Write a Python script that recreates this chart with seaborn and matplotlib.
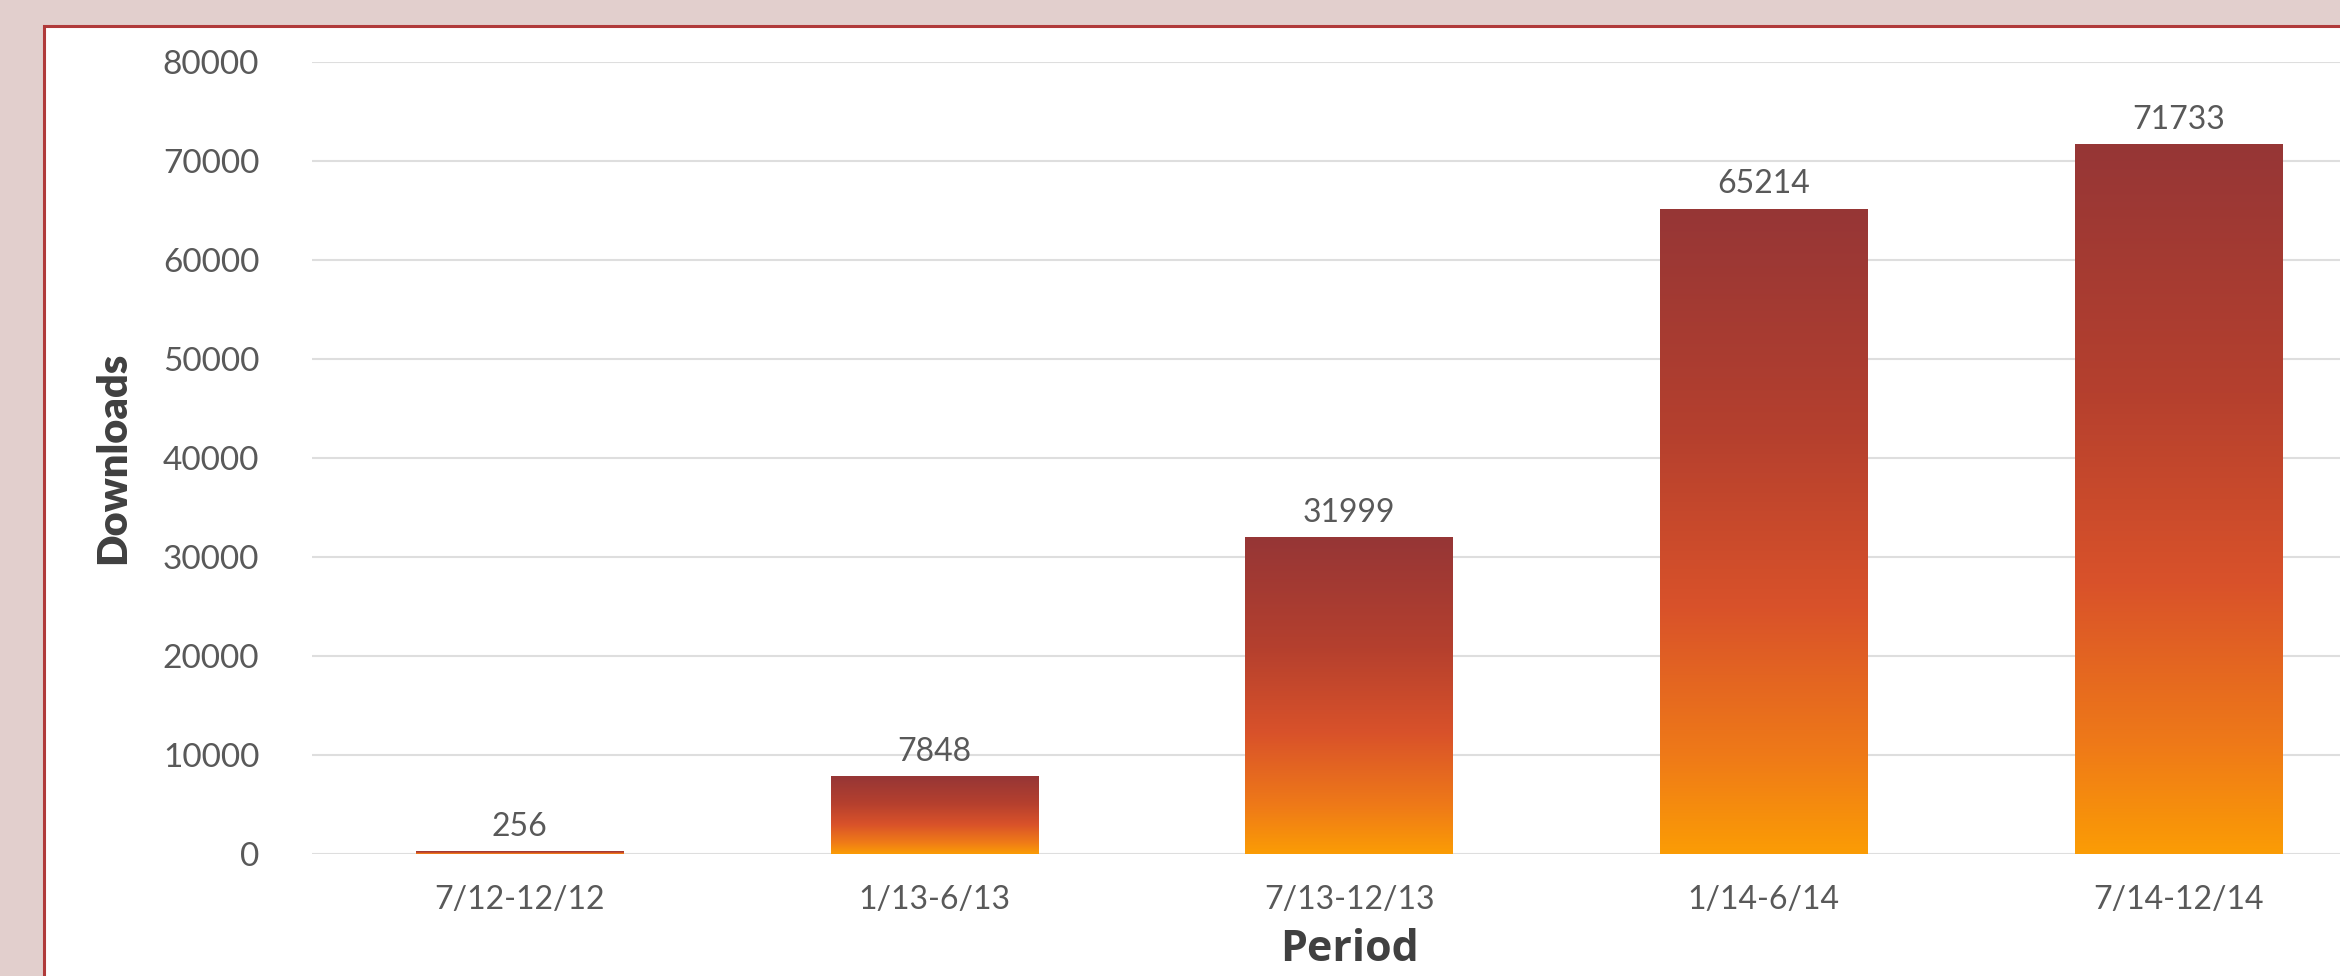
import matplotlib
matplotlib.use("Agg")
import matplotlib.pyplot as plt
from matplotlib.colors import LinearSegmentedColormap
from matplotlib.patches import Rectangle
import numpy as np
import seaborn as sns

# Data
periods = ['7/12-12/12', '1/13-6/13', '7/13-12/13', '1/14-6/14', '7/14-12/14']
downloads = [256, 7848, 31999, 65214, 71733]
yticks = [0, 10000, 20000, 30000, 40000, 50000, 60000, 70000, 80000]

W, H = 2340, 976

sns.set_theme(style="white")
plt.rcParams['font.family'] = ['Lato', 'DejaVu Sans']

fig = plt.figure(figsize=(W / 100, H / 100), dpi=100)
fig.patch.set_facecolor('#e2cfcd')

# white chart panel with red border, running off the right/bottom edge
panel = Rectangle((44 / W, -0.1), 1.2, (H - 26) / H + 0.1, transform=fig.transFigure,
                  facecolor='white', edgecolor='#b03a3a', linewidth=2.2, zorder=0)
fig.add_artist(panel)

ax = fig.add_axes([312 / W, 122 / H, (2386 - 312) / W, 792 / H])
ax.set_facecolor('none')

sns.barplot(x=periods, y=downloads, ax=ax, width=0.5, color='#d9522a', saturation=1)

# gradient fill for each bar: orange at the bottom to dark red at the top
cmap = LinearSegmentedColormap.from_list('bar_grad', [
    (0.0, '#fb9c05'), (0.15, '#ef7a18'), (0.38, '#d9522a'),
    (0.65, '#b5402e'), (1.0, '#963636')])
grad = np.linspace(0, 1, 256).reshape(-1, 1)
for patch in ax.patches:
    x0, y0 = patch.get_xy()
    w, h = patch.get_width(), patch.get_height()
    im = ax.imshow(grad, extent=[x0, x0 + w, y0, y0 + h], origin='lower',
                   aspect='auto', cmap=cmap, zorder=2)
    im.set_clip_path(patch)
    patch.set_facecolor('none')
    patch.set_edgecolor('none')

ax.set_xlim(-0.5, len(periods) - 0.5)
ax.set_ylim(0, 80050)
ax.set_yticks(yticks)
ax.set_yticklabels([str(t) for t in yticks])

ax.bar_label(ax.containers[0], labels=[str(v) for v in downloads], padding=7,
             fontsize=23, color='#595959')

ax.yaxis.grid(True, color='#dedede', linewidth=1.5)
ax.set_axisbelow(True)
for s in ax.spines.values():
    s.set_visible(False)
ax.tick_params(axis='both', length=0, labelsize=23, labelcolor='#595959')
ax.tick_params(axis='y', labelsize=24, pad=38)
ax.tick_params(axis='x', pad=22)

ax.set_xlabel('Period', fontsize=31, fontweight='bold', color='#404040', labelpad=10,
              family=['Open Sans', 'DejaVu Sans'])
ax.set_ylabel('Downloads', fontsize=30, fontweight='heavy', color='#404040', labelpad=22)

fig.savefig('out.png', dpi=100, facecolor=fig.get_facecolor())
